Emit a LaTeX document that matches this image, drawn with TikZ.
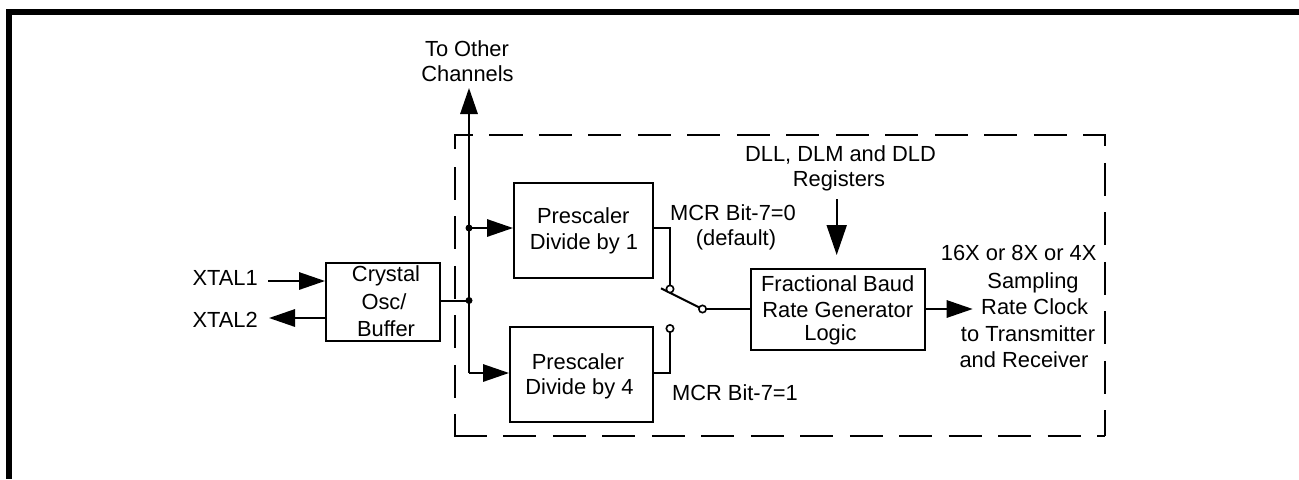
\documentclass[tikz,border=0pt]{standalone}
\usepackage{fontspec}
\setmainfont{Liberation Sans}
\usetikzlibrary{arrows.meta}
\tikzset{
  x=0.75pt,y=-0.75pt,
  blockbox/.style={draw,line width=1.5pt,inner sep=0pt,anchor=north west},
  lbl/.style={inner sep=0pt,anchor=base,font=\fontsize{16.4}{19.7}\selectfont},
  wire/.style={line width=1.5pt},
  bigarrow/.style={line width=1.5pt,-{Triangle[length=19.5pt,width=13pt]}},
  hugearrow/.style={line width=1.5pt,-{Triangle[length=22.5pt,width=15pt]}},
  pin/.style={circle,draw,line width=1.2pt,fill=white,minimum size=5.5pt,inner sep=0pt},
  junct/.style={circle,fill=black,minimum size=5.25pt,inner sep=0pt},
  dashline/.style={line width=1.5pt,dash pattern=on 24.75pt off 12.37pt},
}
\begin{document}
\begin{tikzpicture}
\useasboundingbox (0,0) rectangle (1299,479);
\fill[white] (0,0) rectangle (1299,479);
\fill[black] (6,9) rectangle (1299,15);
\fill[black] (6,9) rectangle (12,479);
\draw[dashline] (454.5,149) -- (454.5,134.5) -- (1104.5,134.5) -- (1104.5,435.5);
\draw[dashline] (454.5,167) -- (454.5,435.5);
\draw[dashline] (453.8,435.5) -- (1104.5,435.5);
\node[blockbox,minimum width=85.5pt,minimum height=58.5pt] (crystal) at (325,262) {};
\node[lbl] (t1) at (386,281.7) {Crystal};
\node[lbl] (t2) at (384,309) {Osc/};
\node[lbl] (t3) at (386,336) {Buffer};
\node[blockbox,minimum width=104.25pt,minimum height=71.25pt] (pre1) at (513,181.7) {};
\node[lbl] (pre1a) at (583.3,223) {Prescaler};
\node[lbl] (pre1b) at (584,249) {Divide by 1};
\node[blockbox,minimum width=107.25pt,minimum height=71.25pt] (pre4) at (509,326) {};
\node[lbl] (pre4a) at (578,369) {Prescaler};
\node[lbl] (pre4b) at (579.5,394) {Divide by 4};
\node[blockbox,minimum width=130.5pt,minimum height=60.75pt] (frac) at (750,268) {};
\node[lbl] (f1) at (837.7,291.7) {Fractional Baud};
\node[lbl] (f2) at (837.8,317.7) {Rate Generator};
\node[lbl] (f3) at (830.5,340) {Logic};
\node[lbl,anchor=base east] (xt1) at (258,285) {XTAL1};
\node[lbl,anchor=base east] (xt2) at (258,327.7) {XTAL2};
\node[lbl] (oth1) at (467,56) {To Other};
\node[lbl] (oth2) at (467.5,81.7) {Channels};
\node[lbl] (dll1) at (840.5,161) {DLL, DLM and DLD};
\node[lbl] (dll2) at (839,186) {Registers};
\node[lbl] (mcr0a) at (733,220) {MCR Bit-7=0};
\node[lbl] (mcr0b) at (736,245) {(default)};
\node[lbl] (mcr1) at (735,400) {MCR Bit-7=1};
\node[lbl] (r1) at (1018.7,260.5) {16X or 8X or 4X};
\node[lbl] (r2) at (1033,288) {Sampling};
\node[lbl] (r3) at (1034.7,314) {Rate Clock};
\node[lbl] (r4) at (1028,341) {to Transmitter};
\node[lbl] (r5) at (1024,367) {and Receiver};
\coordinate (jm) at (469,300.5);
\coordinate (jt) at (469,228);
\coordinate (jb) at (469,373);
\coordinate (up) at (469,88);
\coordinate (swT) at (670,289);
\coordinate (swB) at (670,328.5);
\coordinate (swO) at (702.5,309);
\coordinate (swTail) at (661,288.3);
\coordinate (xa) at (268,281);
\coordinate (xb) at (269,318);
\coordinate (da) at (836.7,199);
\coordinate (db) at (836.7,255);
\coordinate (oa) at (972.7,309);
\coordinate (c1) at (652,228);
\coordinate (c4) at (652,373);
\coordinate (k1) at (670,228);
\coordinate (k4) at (670,373);
\draw[wire] (crystal.east |- jm) -- (jm);
\draw[bigarrow] (jb) -- (up);
\draw[bigarrow] (jt) -- (jt -| pre1.west);
\draw[bigarrow] (jb) -- (jb -| pre4.west);
\node[junct] (j1) at (jt) {};
\node[junct] (j2) at (jm) {};
\draw[bigarrow] (xa) -- (xa -| crystal.west);
\draw[bigarrow] (xb -| crystal.west) -- (xb);
\draw[wire] (c1) -- (k1) -- (swT);
\draw[wire] (c4) -- (k4) -- (swB);
\draw[wire] (swTail) -- (swO);
\draw[wire] (swO) -- (swO -| frac.west);
\node[pin] (pT) at (swT) {};
\node[pin] (pB) at (swB) {};
\node[pin] (pO) at (swO) {};
\draw[hugearrow] (da) -- (db);
\draw[bigarrow] (frac.east |- oa) -- (oa);
\end{tikzpicture}
\end{document}
